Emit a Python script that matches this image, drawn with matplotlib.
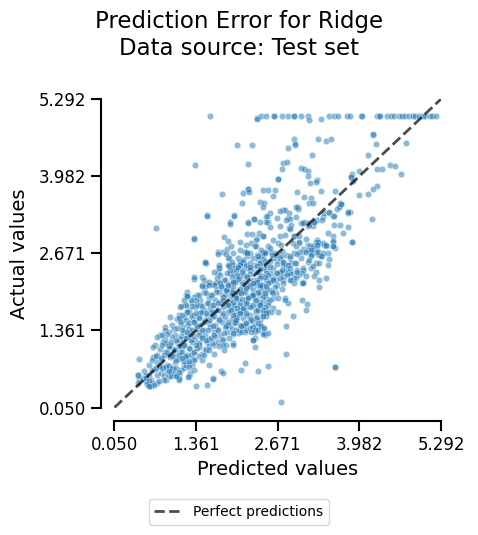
import numpy as np
import matplotlib
matplotlib.use("Agg")
import matplotlib.pyplot as plt
from matplotlib.lines import Line2D

# values (predicted, actual)
capped_pred = [1.59, 2.33, 2.33, 2.40, 2.48, 2.61, 2.61, 2.74, 2.83, 2.93, 2.93, 3.05,
               3.16, 3.17, 3.37, 3.50, 3.57, 3.64, 3.79, 3.83, 4.00, 4.03, 4.27, 4.30,
               4.32, 4.43, 4.49, 4.53, 4.61, 4.66, 4.72, 4.78, 4.84, 4.87, 4.94, 5.00,
               5.03, 5.11, 5.14, 5.21]
capped_true = [5.00, 4.97, 4.96, 5.00, 5.00, 5.00, 5.00, 5.00, 5.00, 5.00, 5.00, 5.00,
               5.00, 4.94, 4.95, 5.00, 5.00, 5.00, 5.00, 5.00, 5.00, 5.00, 5.00, 5.00,
               5.00, 5.00, 5.00, 5.00, 5.00, 5.00, 5.00, 5.00, 5.00, 5.00, 5.00, 5.00,
               5.00, 5.00, 5.00, 5.00]

upper_points = [
    (2.01, 4.51), (2.25, 4.51), (1.35, 4.17), (2.19, 4.18), (1.77, 3.67), (2.19, 3.76),
    (2.19, 3.77), (2.12, 3.69), (2.21, 3.72), (2.43, 3.74), (2.51, 3.74), (2.59, 3.64),
    (2.09, 3.52), (2.38, 3.54), (2.45, 3.52), (2.93, 4.61), (2.95, 4.51), (2.95, 4.52),
    (2.83, 4.46), (3.32, 4.61), (3.45, 4.58), (3.53, 4.61), (3.22, 4.34), (4.20, 4.68),
    (4.20, 4.69), (4.25, 4.52), (4.73, 4.54), (4.12, 4.34), (2.75, 4.21), (2.82, 4.22),
    (2.74, 4.10), (3.05, 4.12), (3.10, 4.10), (3.16, 4.07), (3.16, 3.98), (2.67, 3.93),
    (2.67, 3.94), (3.19, 3.86), (3.30, 3.91), (3.28, 3.88), (3.86, 4.02), (3.85, 3.97),
    (3.85, 3.96), (3.88, 3.90), (3.98, 4.07), (4.27, 4.10), (4.35, 4.10), (4.48, 4.17),
    (4.56, 4.15), (4.65, 4.01), (4.27, 3.82), (4.20, 3.76), (4.12, 3.67), (3.98, 3.66),
    (3.59, 3.73), (3.36, 3.73), (2.98, 3.71), (2.63, 3.74), (3.09, 3.63), (3.20, 3.61),
    (3.18, 3.52), (3.24, 3.52), (3.67, 3.52), (0.72, 3.10), (1.33, 2.93), (1.33, 2.92),
    (1.53, 3.32), (1.53, 3.31), (1.97, 3.32), (1.97, 3.31), (1.91, 3.21), (1.91, 3.17),
]

mid_upper_points = [
    (2.99, 3.45), (2.99, 3.43), (2.44, 3.45), (2.29, 3.26), (2.19, 3.20), (2.49, 3.28),
    (2.55, 3.35), (2.51, 3.21), (2.55, 3.11), (2.66, 3.27), (2.71, 3.13), (2.75, 3.41),
    (2.78, 3.40), (2.85, 3.35), (2.84, 3.27), (2.87, 3.25), (2.85, 3.10), (2.97, 3.28),
    (3.09, 3.21), (3.05, 3.19), (3.16, 3.18), (3.15, 3.13), (3.24, 3.13), (3.30, 3.24),
    (3.25, 3.21), (3.39, 3.28), (3.42, 3.36), (3.50, 3.36), (3.56, 3.30), (3.62, 3.42),
    (3.69, 3.51), (3.65, 3.45), (3.83, 3.37), (3.80, 3.11), (3.86, 2.87), (3.86, 2.86),
    (4.18, 3.25), (2.19, 3.19), (2.29, 3.25), (2.38, 3.21), (2.48, 3.20), (2.50, 3.31),
    (2.70, 3.39), (2.81, 3.24), (2.89, 3.15), (2.97, 3.45), (3.07, 3.19), (3.17, 3.15),
    (3.26, 3.21), (3.38, 3.24), (3.50, 3.38), (3.58, 3.31), (3.68, 3.51), (3.80, 3.36),
    (3.80, 3.38), (3.58, 3.15), (3.67, 3.15), (3.72, 3.01), (3.56, 2.96),
]

mid_points = [
    (1.71, 2.69), (1.79, 2.69), (1.86, 2.74), (1.81, 2.95), (1.88, 2.88), (1.87, 2.59),
    (2.15, 2.70), (2.15, 2.69), (2.17, 2.63), (2.18, 3.00), (2.26, 3.00), (2.07, 2.87),
    (2.24, 2.84), (2.33, 2.93), (2.43, 2.96), (2.32, 2.79), (2.44, 2.70), (2.33, 2.65),
    (2.41, 2.62), (2.43, 2.59), (2.52, 2.80), (2.57, 2.70), (2.60, 2.90), (2.67, 2.84),
    (2.73, 2.81), (2.70, 2.96), (2.78, 2.98), (2.86, 3.08), (2.94, 2.97), (2.94, 2.96),
    (3.01, 2.96), (3.02, 2.84), (3.07, 2.74), (3.12, 2.91), (3.16, 2.81), (3.19, 2.79),
    (3.24, 2.74), (3.21, 2.70), (3.30, 2.89), (3.31, 2.83), (3.30, 2.73), (3.28, 2.67),
    (3.34, 2.65), (3.38, 2.62), (3.42, 2.81), (3.47, 2.68), (3.48, 3.01), (3.56, 2.87),
    (3.59, 2.76), (1.50, 2.50), (1.72, 2.42), (1.89, 2.48), (1.32, 2.23), (1.45, 2.27),
    (1.54, 2.15), (1.63, 2.15), (1.72, 2.19), (1.81, 2.22), (1.91, 2.33), (1.97, 2.42),
    (2.06, 2.50), (2.12, 2.53), (2.17, 2.70), (2.32, 2.90), (2.37, 3.01), (2.44, 2.97),
    (2.28, 2.59), (2.35, 2.57), (2.38, 2.50), (2.43, 2.67), (2.47, 2.70), (2.54, 2.76),
    (2.62, 2.68), (2.66, 2.56), (2.70, 2.59), (2.75, 2.53), (2.81, 2.48), (2.73, 2.36),
    (2.59, 2.42), (2.49, 2.39), (2.32, 2.36), (2.24, 2.42), (2.16, 2.45), (2.11, 2.31),
    (2.00, 2.25), (2.38, 2.28), (2.57, 2.22), (2.65, 2.22), (2.75, 2.28), (2.83, 2.33),
    (2.91, 2.33), (2.97, 2.25), (3.07, 2.19), (2.91, 2.84), (2.97, 2.79), (3.02, 2.87),
    (3.07, 2.70), (3.16, 2.73), (3.24, 2.79), (3.29, 2.87), (3.32, 2.70), (3.40, 2.84),
    (3.45, 2.79), (3.56, 2.79), (3.21, 2.62), (3.16, 2.53), (3.29, 2.50), (3.40, 2.67),
    (3.48, 2.48), (3.29, 2.36), (3.07, 2.42), (3.21, 2.42), (3.34, 2.22), (3.45, 2.25),
    (3.56, 2.88), (3.45, 2.82), (3.56, 2.80), (3.32, 2.87), (3.30, 2.81), (3.21, 2.73),
    (3.13, 2.70), (3.21, 2.65), (3.18, 2.56), (3.33, 2.50), (3.37, 2.62), (3.49, 2.57),
    (3.24, 2.45), (3.26, 2.28), (3.07, 2.39), (2.99, 2.31), (2.94, 2.25), (2.89, 2.22),
    (2.86, 2.33), (2.81, 2.39), (2.75, 2.22), (2.70, 2.36), (2.65, 2.33), (2.59, 2.25),
    (3.34, 2.10), (3.06, 2.17), (3.06, 2.33), (3.12, 2.28), (3.07, 2.17), (2.94, 2.17),
    (1.52, 2.50), (1.71, 2.33), (1.73, 2.42), (1.68, 2.16), (1.87, 2.48), (1.89, 2.59),
    (1.84, 2.66), (1.71, 2.66), (1.95, 2.48), (2.03, 2.42), (2.06, 2.53), (2.19, 2.42),
]

core_points = [
    (1.89, 2.45), (1.95, 2.33), (2.00, 2.39), (2.08, 2.50), (2.16, 2.48), (2.22, 2.39),
    (2.30, 2.48), (2.38, 2.51), (2.43, 2.42), (2.49, 2.48), (2.54, 2.53), (2.59, 2.59),
    (2.65, 2.65), (2.73, 2.62), (2.81, 2.65), (2.86, 2.59), (2.94, 2.67), (3.02, 2.70),
    (3.05, 2.59), (2.97, 2.50), (2.89, 2.50), (2.75, 2.48), (2.54, 2.33), (2.49, 2.22),
    (2.40, 2.29), (2.27, 2.22), (2.16, 2.28), (2.06, 2.22), (1.97, 2.17), (1.92, 2.05),
    (2.00, 1.97), (2.11, 2.05), (2.22, 2.11), (2.32, 2.14), (2.43, 2.11), (2.54, 2.05),
    (2.65, 2.00), (2.59, 1.91), (2.49, 1.91), (2.38, 1.97), (2.27, 1.94), (2.16, 1.88),
    (2.06, 1.83), (1.95, 1.77), (2.00, 1.68), (2.14, 1.74), (2.24, 1.77), (2.35, 1.80),
    (2.43, 1.83), (2.51, 1.85), (2.32, 1.68), (2.22, 1.63), (2.11, 1.57), (2.00, 1.57),
    (1.95, 1.49), (2.16, 1.49), (2.38, 1.54), (2.27, 1.51), (2.03, 1.32), (2.14, 1.34),
    (2.43, 1.40), (2.16, 2.82), (2.30, 2.79), (2.40, 2.73), (2.46, 2.67), (2.35, 2.62),
    (2.22, 2.67), (2.06, 2.73), (1.95, 2.67), (1.92, 2.79), (2.03, 2.59), (2.11, 2.56),
    (2.78, 1.91), (2.83, 1.83), (3.06, 1.87), (3.14, 1.81), (3.12, 1.71), (2.91, 1.60),
    (2.81, 1.44), (2.60, 1.74), (2.57, 1.68), (2.49, 1.71), (2.43, 1.61), (2.46, 1.29),
    (2.32, 1.44), (2.27, 1.40), (2.30, 1.23), (2.11, 1.43), (2.06, 1.37), (2.68, 1.68),
    (2.59, 2.00), (2.51, 1.68), (2.43, 1.66), (2.38, 1.80), (2.32, 1.71), (2.49, 1.60),
    (2.30, 1.34), (2.45, 1.31), (2.05, 2.28), (2.14, 2.19), (2.22, 2.11), (2.30, 2.16),
    (2.38, 2.25), (2.48, 2.33), (2.54, 2.19), (2.43, 2.05), (2.35, 1.99), (2.24, 1.94),
    (1.92, 2.16), (1.84, 2.05), (1.79, 1.94), (1.95, 1.99), (2.03, 1.88), (2.11, 2.02),
    (1.97, 1.80), (2.06, 1.71), (1.89, 1.83), (1.89, 1.43), (1.99, 1.49), (2.06, 1.46),
    (2.14, 1.46), (2.08, 1.34), (2.16, 1.36), (2.27, 1.42), (2.38, 1.46),
]

band_points = [
    (2.18, 2.68), (2.58, 2.65), (2.74, 2.71), (2.87, 2.63), (2.98, 2.66),
    (1.51, 2.52), (1.72, 2.47), (1.93, 2.53), (2.07, 2.48), (2.23, 2.51), (2.34, 2.46),
    (2.47, 2.54), (2.66, 2.49), (2.76, 2.52), (2.84, 2.47), (2.95, 2.51),
    (1.91, 2.39), (2.04, 2.43), (2.12, 2.38), (2.23, 2.44), (2.39, 2.40), (2.55, 2.43),
    (2.74, 2.38), (2.87, 2.42), (2.98, 2.39),
    (1.64, 2.35), (1.75, 2.31), (1.85, 2.34), (2.01, 2.30), (2.10, 2.35), (2.23, 2.32),
    (2.36, 2.35), (2.52, 2.30), (2.66, 2.34), (2.82, 2.31), (2.98, 2.35),
    (1.32, 2.26), (1.48, 2.22), (1.69, 2.25), (1.83, 2.21), (1.93, 2.26), (2.04, 2.23),
    (2.18, 2.27), (2.34, 2.22), (2.47, 2.26), (2.60, 2.21), (2.71, 2.25), (2.87, 2.22),
    (1.45, 2.14), (1.56, 2.18), (1.64, 2.13), (1.75, 2.17), (1.88, 2.14), (1.99, 2.18),
    (2.10, 2.15), (2.23, 2.13), (2.34, 2.18), (2.42, 2.14), (2.52, 2.17), (2.66, 2.13),
    (2.76, 2.17),
    (1.51, 2.10), (1.69, 2.06), (1.77, 2.09), (1.85, 2.05), (1.96, 2.10), (2.07, 2.06),
    (2.18, 2.10), (2.28, 2.05), (2.39, 2.09), (2.50, 2.06), (2.63, 2.10), (2.74, 2.07),
    (1.21, 2.01), (1.37, 1.97), (1.48, 2.02), (1.61, 1.97), (1.72, 2.01), (1.83, 1.96),
    (1.93, 2.02), (2.04, 1.98), (2.15, 2.01), (2.26, 1.96), (2.36, 2.01), (2.47, 1.97),
    (2.58, 2.02),
    (1.32, 1.92), (1.42, 1.88), (1.56, 1.91), (1.67, 1.87), (1.80, 1.92), (1.91, 1.88),
    (1.99, 1.93), (2.10, 1.89), (2.20, 1.92), (2.31, 1.87), (2.44, 1.92), (2.55, 1.88),
    (2.68, 1.91), (2.79, 1.88),
    (1.18, 1.80), (1.29, 1.84), (1.42, 1.79), (1.53, 1.83), (1.64, 1.80), (1.75, 1.84),
    (1.85, 1.80), (1.96, 1.84), (2.07, 1.79), (2.18, 1.83), (2.28, 1.80), (2.39, 1.84),
    (2.52, 1.80),
    (1.10, 1.75), (1.24, 1.71), (1.34, 1.75), (1.48, 1.70), (1.59, 1.74), (1.69, 1.71),
    (1.80, 1.75), (1.91, 1.71), (2.01, 1.74), (2.12, 1.70), (2.23, 1.75), (2.36, 1.71),
    (2.47, 1.75),
    (1.08, 1.63), (1.21, 1.67), (1.32, 1.62), (1.42, 1.66), (1.53, 1.63), (1.64, 1.67),
    (1.77, 1.63), (1.88, 1.67), (1.99, 1.62), (2.07, 1.66), (2.18, 1.63),
    (0.94, 1.59), (1.05, 1.55), (1.16, 1.59), (1.29, 1.55), (1.40, 1.58), (1.51, 1.54),
    (1.61, 1.59), (1.72, 1.55), (1.83, 1.59), (1.93, 1.55), (2.01, 1.58), (2.23, 1.55),
    (2.34, 1.59),
    (0.97, 1.46), (1.10, 1.50), (1.21, 1.46), (1.32, 1.50), (1.42, 1.45), (1.56, 1.49),
    (1.67, 1.46), (1.77, 1.50), (1.88, 1.46), (1.99, 1.50), (2.12, 1.46),
    (0.86, 1.42), (1.00, 1.38), (1.13, 1.42), (1.24, 1.38), (1.37, 1.41), (1.48, 1.37),
    (1.59, 1.42), (1.69, 1.38), (1.83, 1.42), (1.93, 1.38),
    (0.78, 1.29), (0.92, 1.33), (1.02, 1.29), (1.16, 1.33), (1.26, 1.30), (1.40, 1.34),
    (1.51, 1.29), (1.64, 1.33), (1.75, 1.29), (1.85, 1.33), (1.96, 1.30),
    (0.73, 1.25), (0.86, 1.21), (0.97, 1.25), (1.10, 1.21), (1.21, 1.24), (1.34, 1.20),
    (1.45, 1.25), (1.56, 1.21), (1.67, 1.25), (1.77, 1.21),
    (0.70, 1.12), (0.83, 1.16), (0.94, 1.12), (1.05, 1.16), (1.16, 1.12), (1.29, 1.16),
    (1.40, 1.12), (1.53, 1.16), (1.64, 1.12), (1.96, 1.15),
    (0.67, 1.08), (0.78, 1.04), (0.92, 1.08), (1.02, 1.04), (1.13, 1.07), (1.26, 1.04),
    (1.40, 1.08), (1.51, 1.04),
    (0.73, 0.95), (0.86, 0.99), (1.00, 0.95), (1.10, 0.99), (1.21, 0.95), (1.32, 0.99),
    (1.45, 0.96),
    (0.67, 0.91), (0.81, 0.87), (0.94, 0.91), (1.08, 0.87), (1.18, 0.91), (1.32, 0.88),
    (0.73, 0.82), (0.89, 0.78), (1.02, 0.82), (1.16, 0.79),
    (0.70, 0.70), (0.83, 0.74), (0.99, 0.71), (0.89, 0.65), (1.08, 0.61), (1.26, 0.64),
]

low_points = [
    (0.42, 0.61), (0.44, 0.54), (0.52, 0.67), (0.55, 0.61), (0.61, 0.58), (0.63, 0.52),
    (0.66, 0.47), (0.61, 0.41), (0.74, 0.47), (0.74, 0.61), (0.79, 0.64), (0.85, 0.58),
    (0.87, 0.52), (0.93, 0.58), (0.95, 0.67), (0.55, 0.50), (0.50, 0.55), (0.66, 0.69),
    (0.71, 0.72), (0.77, 0.75), (0.82, 0.72), (0.87, 0.74), (0.93, 0.76), (0.98, 0.72),
    (1.01, 0.63), (1.06, 0.59), (1.12, 0.69), (1.17, 0.72), (1.20, 0.78), (1.25, 0.81),
    (1.30, 0.78), (1.17, 0.84), (0.61, 0.78), (0.66, 0.86), (0.71, 0.92), (0.79, 0.89),
    (0.85, 0.95), (0.90, 1.00), (0.98, 0.92), (1.03, 0.86), (1.09, 0.95), (1.14, 1.00),
    (1.20, 0.92), (1.28, 0.95), (1.33, 1.00), (1.38, 1.06), (1.41, 0.92), (1.46, 0.86),
    (1.49, 0.95), (1.52, 1.03), (1.57, 1.09), (1.63, 1.15), (1.41, 1.15), (1.36, 1.12),
    (1.25, 1.06), (1.17, 1.12), (1.09, 1.09), (1.01, 1.03), (0.93, 1.09), (0.87, 1.15),
    (0.82, 1.12), (0.95, 1.17), (1.03, 1.20), (1.12, 1.26), (1.20, 1.23), (1.28, 1.20),
    (1.33, 1.26), (1.41, 1.29), (1.46, 1.23), (1.52, 1.20), (1.60, 1.23), (1.65, 1.29),
    (1.71, 1.17), (1.73, 1.09), (1.79, 1.20), (1.81, 1.32), (1.84, 1.43), (1.87, 1.51),
    (1.71, 1.37), (1.63, 1.43), (1.55, 1.37), (1.46, 1.37), (1.38, 1.43), (1.30, 1.37),
    (1.22, 1.34), (1.14, 1.37), (1.06, 1.40), (1.12, 1.51), (1.20, 1.54), (1.25, 1.49),
    (1.33, 1.51), (1.41, 1.57), (1.49, 1.51), (1.57, 1.54), (1.65, 1.60), (1.73, 1.54),
    (1.79, 1.66), (1.71, 1.71), (1.60, 1.68), (1.52, 1.66), (1.44, 1.68), (1.36, 1.66),
    (1.28, 1.63), (1.22, 1.68), (1.14, 1.63), (1.09, 1.57), (1.30, 1.77), (1.38, 1.80),
    (1.46, 1.77), (1.55, 1.83), (1.63, 1.80), (1.71, 1.83), (1.79, 1.88), (1.87, 1.80),
    (1.92, 1.71), (1.95, 1.63), (2.00, 1.54), (2.06, 1.66), (2.11, 1.74), (2.16, 1.83),
    (2.19, 1.91), (2.27, 1.97), (2.32, 1.88), (2.38, 1.80), (2.43, 1.71), (2.48, 1.66),
    (2.43, 1.60), (2.32, 1.57), (2.24, 1.54), (2.16, 1.49), (2.08, 1.43), (2.00, 1.37),
    (1.95, 1.32), (1.89, 1.23), (1.84, 1.12), (2.27, 1.20), (2.35, 1.49), (2.46, 1.99),
    (2.48, 2.11), (2.38, 2.14), (2.27, 2.16), (2.16, 2.08), (2.08, 1.99), (2.00, 1.91),
    (1.92, 1.97), (1.84, 2.05), (1.76, 2.11), (1.68, 2.02), (1.60, 1.97), (1.52, 1.99),
    (1.41, 1.97), (1.36, 1.88), (1.46, 2.11), (1.57, 2.14), (1.20, 1.97), (1.28, 1.88),
    (1.20, 1.80), (1.12, 1.77), (2.22, 1.40), (2.30, 1.37), (2.40, 1.43), (2.51, 1.32),
    (2.16, 1.66), (1.87, 2.14), (1.95, 2.19), (1.21, 1.95), (1.21, 1.94), (1.17, 1.88),
    (0.86, 1.36), (0.90, 1.30), (0.82, 1.29), (0.43, 0.60), (0.42, 0.47), (0.55, 0.55),
    (0.61, 0.50), (0.63, 0.41), (0.58, 0.45), (1.24, 0.58), (1.09, 0.52), (1.04, 0.72),
    (0.95, 0.58), (0.93, 0.67), (0.85, 0.52), (0.77, 0.50), (0.69, 0.44), (0.61, 0.42),
]

outlier_points = [
    (2.27, 1.20), (2.30, 1.08), (1.95, 1.11), (2.80, 0.96), (2.14, 0.81), (2.08, 0.69),
    (2.35, 0.67), (2.51, 0.76), (3.59, 0.74), (3.59, 0.73), (2.72, 0.15), (0.44, 0.88),
    (1.36, 0.41), (1.54, 0.43), (1.63, 0.55), (1.63, 0.54), (1.56, 0.77), (1.76, 0.67),
    (1.79, 0.64), (1.23, 0.57), (1.09, 0.54), (1.04, 0.58), (1.24, 0.74), (1.33, 0.69),
    (1.08, 0.65), (2.43, 1.30), (2.45, 1.40), (2.35, 1.37), (2.24, 1.33), (1.79, 1.12),
    (1.81, 1.03), (1.57, 1.03), (1.65, 0.96), (1.33, 0.86), (1.25, 0.84), (1.14, 0.89),
]

axis_min, axis_max = 0.050, 5.292
tick_values = np.linspace(axis_min, axis_max, 5)
tick_labels = ["0.050", "1.361", "2.671", "3.982", "5.292"]

# gather everything into the two series
groups = [upper_points, mid_upper_points, mid_points, core_points, band_points,
          low_points, outlier_points]
pairs = np.array([p for g in groups for p in g])
y_pred = np.concatenate([capped_pred, pairs[:, 0]])
y_true = np.concatenate([capped_true, pairs[:, 1]])

fig = plt.figure(figsize=(4.78, 5.35), dpi=100)
ax = fig.add_axes([0.2395, 0.2383, 0.6831, 0.5766])

ax.scatter(y_pred, y_true, s=22, color="tab:blue", alpha=0.5,
           edgecolor="white", linewidth=0.5, zorder=2)
ax.plot([axis_min, axis_max], [axis_min, axis_max], linestyle="--",
        color="black", alpha=0.7, linewidth=2, zorder=3)

ax.set_xlim(axis_min, axis_max)
ax.set_ylim(axis_min, axis_max)
ax.set_xticks(tick_values)
ax.set_yticks(tick_values)
ax.set_xticklabels(tick_labels)
ax.set_yticklabels(tick_labels)
ax.tick_params(labelsize=12, length=7, width=1.5)

# despine with offset and trimmed spines
for side in ["top", "right"]:
    ax.spines[side].set_visible(False)
for side in ["left", "bottom"]:
    ax.spines[side].set_position(("outward", 10))
    ax.spines[side].set_linewidth(1.5)
    ax.spines[side].set_bounds(axis_min, axis_max)

ax.set_xlabel("Predicted values", fontsize=14)
ax.set_ylabel("Actual values", fontsize=14, labelpad=7)
fig.suptitle("Prediction Error for Ridge\nData source: Test set", fontsize=16.5,
             y=0.981, va="top")

handle = Line2D([], [], linestyle="--", color="black", alpha=0.7, linewidth=2,
                label="Perfect predictions")
fig.legend(handles=[handle], loc="center", bbox_to_anchor=(0.5, 0.043), fontsize=10)

fig.savefig("out.png", dpi=100)
